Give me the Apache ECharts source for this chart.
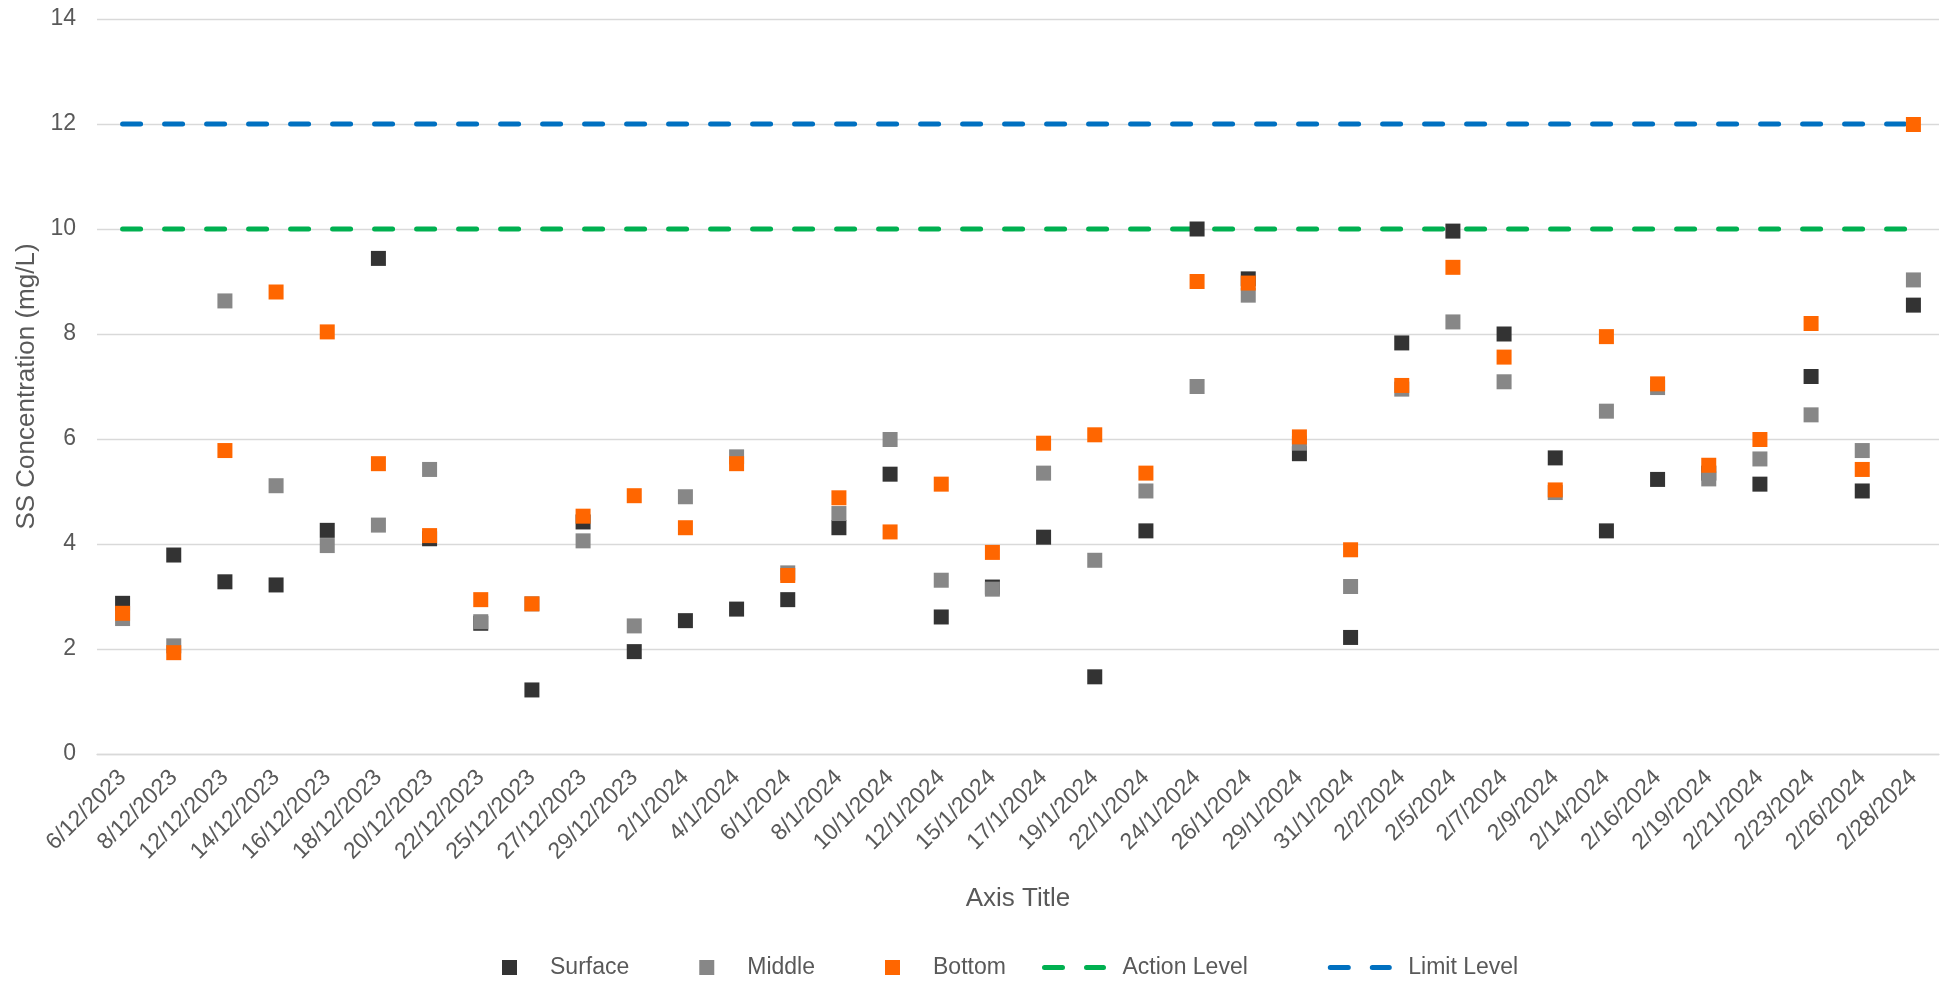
<!DOCTYPE html>
<html>
<head>
<meta charset="utf-8">
<script src="https://cdn.jsdelivr.net/npm/echarts@6/dist/echarts.min.js"></script>
<style>
html,body{margin:0;padding:0;background:#fff;}
#chart{width:1957px;height:981px;}
</style>
</head>
<body>
<div id="chart"></div>
<script>
const categories = ['6/12/2023','8/12/2023','12/12/2023','14/12/2023','16/12/2023','18/12/2023','20/12/2023','22/12/2023','25/12/2023','27/12/2023','29/12/2023','2/1/2024','4/1/2024','6/1/2024','8/1/2024','10/1/2024','12/1/2024','15/1/2024','17/1/2024','19/1/2024','22/1/2024','24/1/2024','26/1/2024','29/1/2024','31/1/2024','2/2/2024','2/5/2024','2/7/2024','2/9/2024','2/14/2024','2/16/2024','2/19/2024','2/21/2024','2/23/2024','2/26/2024','2/28/2024'];

const surface = [2.87,3.79,3.28,3.22,4.26,9.44,4.10,2.49,1.22,4.42,1.95,2.54,2.76,2.94,4.31,5.33,2.61,3.18,4.13,1.47,4.25,10.00,9.05,5.72,2.22,7.83,9.96,8.00,5.64,4.25,5.23,5.35,5.14,7.19,5.01,8.55];
const middle  = [2.58,2.06,8.63,5.11,3.97,4.36,5.42,2.52,2.86,4.06,2.44,4.90,5.66,3.45,4.58,5.99,3.31,3.14,5.35,3.69,5.01,7.00,8.74,5.92,3.19,6.95,8.23,7.09,4.98,6.53,6.98,5.24,5.62,6.46,5.78,9.03];
const bottom  = [2.68,1.93,5.78,8.80,8.04,5.53,4.16,2.94,2.86,4.53,4.92,4.31,5.53,3.40,4.88,4.23,5.14,3.84,5.92,6.08,5.35,9.00,8.97,6.04,3.89,7.02,9.27,7.56,5.03,7.95,7.05,5.50,5.99,8.20,5.42,11.99];

// threshold levels, drawn from the first to the last sampling date
const actionLevel = [10, 10];
const limitLevel = [12, 12];

const yTicks = { min: 0, max: 14, interval: 2 };

const FONT = '"Liberation Sans", Arial, sans-serif';
const TXT = '#595959';

const chart = echarts.init(document.getElementById('chart'), null, { renderer: 'canvas' });

const ends = [categories[0], categories[categories.length - 1]];
const dashStyle = (color) => ({ color: color, width: 5, type: [18, 24], cap: 'round' });

chart.setOption({
  animation: false,
  backgroundColor: '#ffffff',
  textStyle: { fontFamily: FONT },
  grid: { left: 97, right: 18, top: 19, bottom: 227, containLabel: false },
  xAxis: {
    type: 'category',
    data: categories,
    boundaryGap: true,
    name: 'Axis Title',
    nameLocation: 'middle',
    nameGap: 132,
    nameTextStyle: { fontFamily: FONT, fontSize: 26, color: TXT },
    axisLine: { show: true, lineStyle: { color: '#d9d9d9', width: 1.3 } },
    axisTick: { show: false },
    axisLabel: { rotate: 45, interval: 0, margin: 20, fontFamily: FONT, fontSize: 23, color: TXT },
    splitLine: { show: false }
  },
  yAxis: {
    type: 'value',
    min: yTicks.min, max: yTicks.max, interval: yTicks.interval,
    name: 'SS Concentration (mg/L)',
    nameLocation: 'middle',
    nameGap: 54,
    nameTextStyle: { fontFamily: FONT, fontSize: 26, color: TXT },
    axisLine: { show: false },
    axisTick: { show: false },
    axisLabel: { margin: 21, fontFamily: FONT, fontSize: 23, color: TXT },
    splitLine: { show: true, lineStyle: { color: '#d9d9d9', width: 1.3 } }
  },
  legend: [
    {
      data: ['Surface', 'Middle', 'Bottom'],
      left: 502, top: 956, padding: 0,
      icon: 'rect', itemWidth: 15, itemHeight: 15, itemGap: 70,
      textStyle: { fontFamily: FONT, fontSize: 23, color: TXT, padding: [0, 0, 0, 28] }
    },
    {
      data: ['Action Level', 'Limit Level'],
      left: 1042, top: 956, padding: 0,
      itemWidth: 59, itemHeight: 5, itemGap: 80,
      itemStyle: { opacity: 0 },
      lineStyle: { width: 5, type: [18, 24], cap: 'round', opacity: 1 },
      textStyle: { fontFamily: FONT, fontSize: 23, color: TXT, padding: [0, 0, 0, 14] }
    }
  ],
  series: [
    { name: 'Action Level', type: 'line', z: 1, symbol: 'none', silent: true,
      data: [[ends[0], actionLevel[0]], [ends[1], actionLevel[1]]],
      lineStyle: dashStyle('#00b050'), itemStyle: { color: '#00b050' } },
    { name: 'Limit Level', type: 'line', z: 1, symbol: 'none', silent: true,
      data: [[ends[0], limitLevel[0]], [ends[1], limitLevel[1]]],
      lineStyle: dashStyle('#0070c0'), itemStyle: { color: '#0070c0' } },
    { name: 'Surface', type: 'scatter', z: 3, symbol: 'rect', symbolSize: 15,
      data: surface, itemStyle: { color: '#333333', opacity: 1 } },
    { name: 'Middle', type: 'scatter', z: 3, symbol: 'rect', symbolSize: 15,
      data: middle, itemStyle: { color: '#878787', opacity: 1 } },
    { name: 'Bottom', type: 'scatter', z: 3, symbol: 'rect', symbolSize: 15,
      data: bottom, itemStyle: { color: '#ff6600', opacity: 1 } }
  ]
});
</script>
</body>
</html>
